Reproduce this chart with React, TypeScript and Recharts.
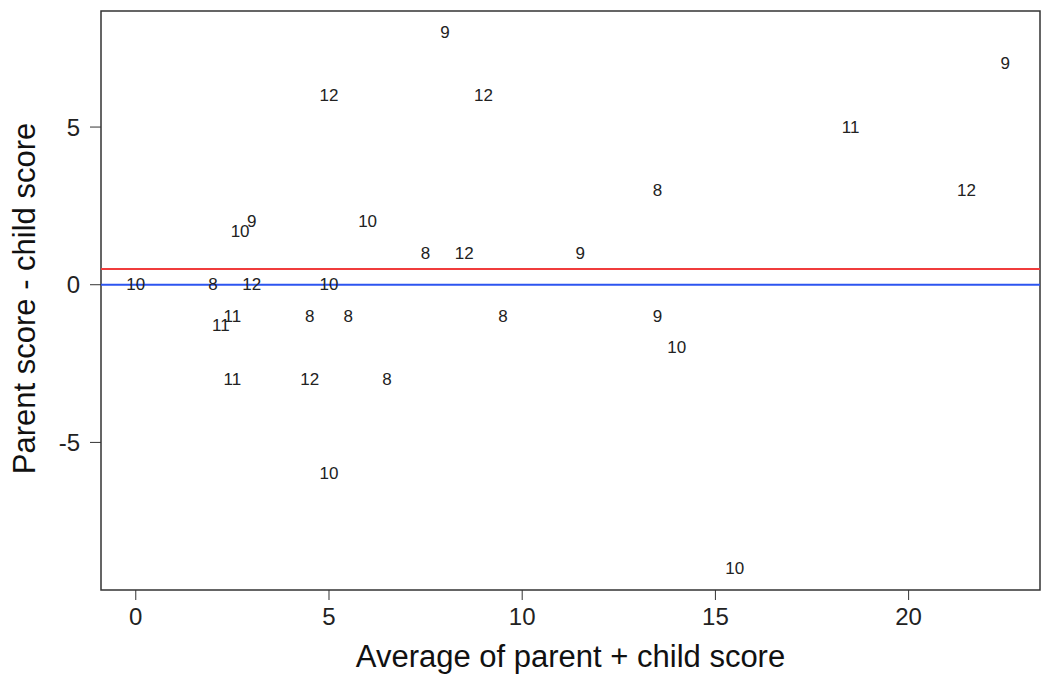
import {
  ReferenceArea,
  ReferenceLine,
  Scatter,
  ScatterChart,
  XAxis,
  YAxis
} from "recharts";

// average of parent + child score, per pair
const avgScores = [
  8, 5, 9, 22.5, 18.5, 13.5, 21.5, 3, 2.7, 6, 7.5, 8.5, 11.5, 0, 2, 3, 5,
  2.5, 2.2, 4.5, 5.5, 9.5, 13.5, 14, 2.5, 4.5, 6.5, 5, 15.5
];
// parent score - child score
const diffScores = [
  8, 6, 6, 7, 5, 3, 3, 2, 1.7, 2, 1, 1, 1, 0, 0, 0, 0,
  -1, -1.3, -1, -1, -1, -1, -2, -3, -3, -3, -6, -9
];
// child age, used as the plotted label
const ages = [
  9, 12, 12, 9, 11, 8, 12, 9, 10, 10, 8, 12, 9, 10, 8, 12, 10,
  11, 11, 8, 8, 8, 9, 10, 11, 12, 8, 10, 10
];

const xTicks = [0, 5, 10, 15, 20];
const yTicks = [-5, 0, 5];
const xDomain: [number, number] = [-0.9, 23.4];
const yDomain: [number, number] = [-9.68, 8.68];
const meanDiff = 0.5;

const FONT = "'Liberation Sans', Arial, Helvetica, sans-serif";

const points = avgScores.map((avg, i) => ({
  avg,
  diff: diffScores[i],
  age: ages[i]
}));

function AgeLabel(props: any) {
  const { cx, cy, payload } = props;
  return (
    <text
      x={cx}
      y={cy}
      textAnchor="middle"
      dominantBaseline="central"
      fontSize={17}
      fontFamily={FONT}
      fill="#222"
    >
      {payload.age}
    </text>
  );
}

function XTitle(props: any) {
  const vb = props.viewBox;
  return (
    <text
      x={vb.x + vb.width / 2}
      y={667}
      textAnchor="middle"
      fontSize={31}
      fontFamily={FONT}
      fill="#111"
    >
      Average of parent + child score
    </text>
  );
}

function YTitle(props: any) {
  const vb = props.viewBox;
  const bx = 35;
  const cy = vb.y + vb.height / 2 - 2;
  return (
    <text
      x={bx}
      y={cy}
      transform={`rotate(-90 ${bx} ${cy})`}
      textAnchor="middle"
      fontSize={31}
      fontFamily={FONT}
      fill="#111"
    >
      Parent score - child score
    </text>
  );
}

export default function App() {
  const tickStyle = { fill: "#222", fontSize: 24, fontFamily: FONT };
  return (
    <div style={{ position: "absolute", left: 0, top: 0, background: "#fff" }}>
      <ScatterChart
        width={1050}
        height={683}
        margin={{ top: 11, right: 10, bottom: 0, left: 0 }}
      >
        <XAxis
          type="number"
          dataKey="avg"
          domain={xDomain}
          ticks={xTicks}
          allowDataOverflow
          height={93}
          axisLine={false}
          tickSize={10}
          tickMargin={8}
          tickLine={{ stroke: "#333", strokeWidth: 1 }}
          tick={tickStyle}
          label={XTitle}
        />
        <YAxis
          type="number"
          dataKey="diff"
          domain={yDomain}
          ticks={yTicks}
          allowDataOverflow
          width={101}
          axisLine={false}
          tickSize={11}
          tickMargin={10}
          tickLine={{ stroke: "#333", strokeWidth: 1 }}
          tick={tickStyle}
          label={YTitle}
        />
        <ReferenceArea
          x1={xDomain[0]}
          x2={xDomain[1]}
          y1={yDomain[0]}
          y2={yDomain[1]}
          fill="none"
          fillOpacity={0}
          stroke="#333"
          strokeWidth={1.5}
          ifOverflow="visible"
        />
        <ReferenceLine y={meanDiff} stroke="#f03c3c" strokeWidth={2} />
        <ReferenceLine y={0} stroke="#2c55f0" strokeWidth={2} />
        <Scatter
          data={points}
          shape={AgeLabel}
          isAnimationActive={false}
        />
      </ScatterChart>
    </div>
  );
}
